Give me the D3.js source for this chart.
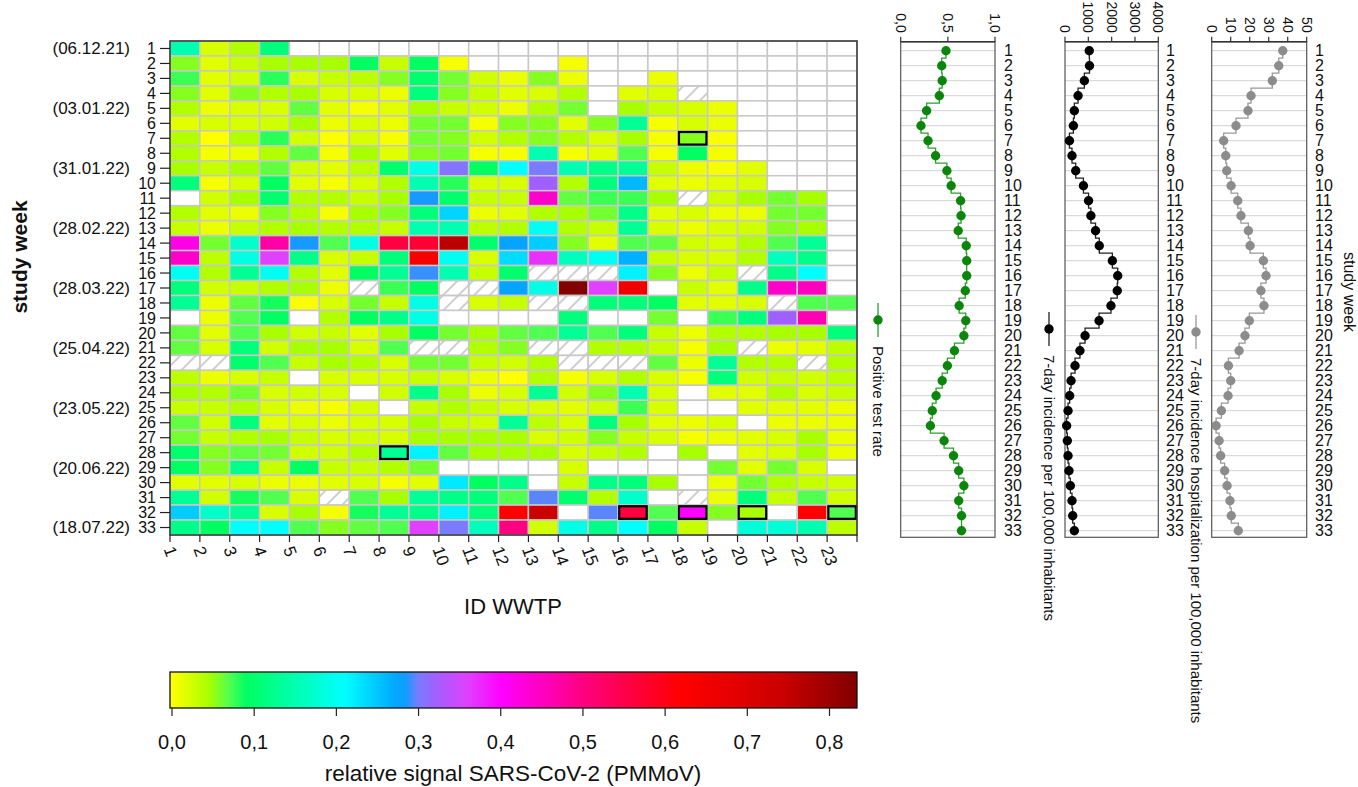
<!DOCTYPE html>
<html lang="en">
<head>
<meta charset="UTF-8">
<title>Relative SARS-CoV-2 signal per WWTP</title>
<script src="https://d3js.org/d3.v7.min.js"></script>
<style>
  body { margin: 0; background: #fff; font-family: "Liberation Sans", Arial, sans-serif; }
  svg text { fill: #111; }
</style>
</head>
<body>
<svg width="1358" height="787"></svg>
<script>
// ---- data ----
const weeks = d3.range(1, 34);
const wwtps = d3.range(1, 24);
const weekDates = { 1: "(06.12.21)", 5: "(03.01.22)", 9: "(31.01.22)", 13: "(28.02.22)", 17: "(28.03.22)",
                    21: "(25.04.22)", 25: "(23.05.22)", 29: "(20.06.22)", 33: "(18.07.22)" };
const n = null;
// relative signal SARS-CoV-2 / PMMoV, one row per study week, one column per WWTP
const signal = [
  [0.15,0.02,0.04,0.11,n,n,n,n,n,n,n,n,n,n,n,n,n,n,n,n,n,n,n],
  [0.055,0.015,0.03,0.045,0.045,0.045,0.09,0.03,0.09,0.005,n,n,n,0.005,n,n,n,n,n,n,n,n,n],
  [0.075,0.015,0.025,0.08,0.02,0.03,0.035,0.055,0.1,0.06,0.025,0.01,0.055,0.01,n,n,0.01,n,n,n,n,n,n],
  [0.055,0.015,0.055,0.04,0.045,0.02,0.02,0.01,0.11,0.055,0.03,0.015,0.02,0.04,n,0.015,0.02,n,n,n,n,n,n],
  [0.04,0.01,0.02,0.02,0.065,0.015,0.005,0.015,0.045,0.03,0.025,0.01,0.04,0.06,n,0.045,0.03,0.02,0.01,n,n,n,n],
  [0.015,0.02,0.02,0.025,0.045,0.01,0.02,0.01,0.06,0.06,0.005,0.055,0.055,0.015,0.055,0.13,0.005,0.02,0.01,n,n,n,n],
  [0.04,0.0,0.04,0.08,0.025,0.002,0.02,0.005,0.06,0.055,0.025,0.04,0.055,0.04,0.02,0.045,0.005,0.055,0.003,n,n,n,n],
  [0.04,0.005,0.01,0.04,0.065,0.005,0.045,0.015,0.055,0.06,0.005,0.005,0.15,0.005,0.015,0.07,0.005,0.09,0.005,n,n,n,n],
  [0.045,0.03,0.045,0.065,0.025,0.015,0.035,0.1,0.19,0.305,0.09,0.21,0.30,0.15,0.12,0.13,0.03,0.01,0.005,0.015,n,n,n],
  [0.11,0.005,0.02,0.09,0.015,0.005,0.02,0.04,0.15,0.08,0.02,0.02,0.32,0.04,0.11,0.26,0.015,0.01,0.015,0.02,n,n,n],
  [n,0.025,0.045,0.1,0.04,0.04,0.03,0.045,0.285,0.1,0.03,0.03,0.44,0.065,0.075,0.075,0.045,n,0.025,0.045,0.06,0.045,n],
  [0.04,0.015,0.01,0.055,0.04,0.005,0.045,0.055,0.11,0.24,0.01,0.015,0.04,0.045,0.06,0.12,0.015,0.02,0.01,0.01,0.06,0.06,n],
  [0.03,0.01,0.03,0.04,0.045,0.04,0.04,0.03,0.15,0.15,0.035,0.04,0.2,0.04,0.03,0.13,0.02,0.01,0.02,0.025,0.055,0.045,n],
  [0.42,0.06,0.17,0.47,0.285,0.07,0.19,0.56,0.57,0.76,0.1,0.275,0.245,0.055,0.015,0.07,0.065,0.025,0.02,0.04,0.07,0.13,n],
  [0.44,0.035,0.19,0.36,0.12,0.02,0.03,0.11,0.64,0.2,0.02,0.235,0.37,0.16,0.2,0.265,0.03,0.02,0.02,0.04,0.16,0.12,n],
  [0.2,0.04,0.13,0.2,0.04,0.015,0.09,0.13,0.29,0.15,0.03,0.1,n,n,n,0.22,0.055,0.01,0.03,n,0.12,0.21,n],
  [0.11,0.025,0.03,0.04,0.045,0.01,n,0.075,0.09,n,n,0.275,0.19,0.83,0.36,0.65,n,0.03,0.015,0.12,0.44,0.45,n],
  [0.13,0.01,0.065,0.085,0.003,0.02,0.06,0.03,0.19,n,0.02,0.03,n,n,0.11,0.11,0.09,0.015,0.015,0.02,n,0.07,0.07],
  [n,0.01,0.07,0.09,n,0.04,0.09,0.12,0.19,n,n,n,n,0.11,n,n,0.06,n,0.075,0.11,0.32,0.46,n],
  [0.065,0.015,0.07,0.045,0.025,0.03,0.015,0.045,0.09,0.06,0.045,0.065,0.07,0.13,0.07,0.11,0.03,0.01,0.04,0.04,0.045,0.045,0.11],
  [0.065,0.02,0.11,0.025,0.045,0.045,0.02,0.07,n,n,0.04,0.055,n,n,0.04,0.04,0.03,0.005,0.045,n,0.01,0.015,0.035],
  [n,n,0.1,0.07,0.03,0.045,0.04,0.02,0.06,0.06,0.03,0.025,0.04,n,n,n,0.065,0.01,0.13,0.04,0.04,n,0.04],
  [0.035,0.01,0.02,0.03,n,0.02,0.02,0.02,0.03,0.02,0.01,0.0,0.04,0.005,0.02,0.04,0.02,0.005,0.11,0.025,0.03,0.025,0.035],
  [0.045,0.04,0.06,0.02,0.025,0.02,n,0.025,0.12,0.045,0.01,0.02,0.13,0.025,0.055,0.15,0.02,n,0.015,0.015,0.04,0.02,0.03],
  [0.03,0.03,0.04,0.02,0.01,0.005,0.02,n,0.03,0.04,0.03,0.02,0.02,0.015,0.025,0.075,0.02,n,n,0.015,0.015,0.015,0.01],
  [0.065,0.025,0.11,0.015,0.02,0.01,0.02,0.02,0.045,0.03,0.025,0.13,0.035,0.02,0.11,0.045,0.015,0.01,0.02,n,0.01,0.01,0.01],
  [0.06,0.03,0.04,0.045,0.03,0.02,0.025,0.02,0.045,0.045,0.045,0.045,0.02,0.025,0.055,0.03,0.02,0.005,0.01,0.015,0.02,0.045,0.01],
  [0.1,0.055,0.065,0.06,0.025,0.025,0.04,0.13,0.22,0.065,0.045,0.045,0.045,0.02,0.03,0.04,n,0.045,n,0.015,0.02,0.045,0.01],
  [0.09,0.055,0.12,0.03,0.09,0.03,0.03,0.04,0.06,n,n,n,n,0.02,n,n,n,n,0.06,0.015,0.06,0.02,n],
  [0.015,0.015,0.02,0.01,0.01,0.015,0.02,0.005,0.015,0.225,0.09,0.12,n,0.03,0.12,0.11,0.045,n,0.01,0.06,0.04,0.03,0.025],
  [0.13,0.025,0.085,0.07,0.02,n,0.07,0.045,0.13,0.12,0.11,0.07,0.295,0.1,0.04,0.17,n,n,0.01,0.11,0.03,0.07,0.025],
  [0.245,0.17,0.13,0.02,0.045,0.005,0.085,0.13,0.12,0.22,0.11,0.62,0.74,n,0.295,0.56,0.07,0.40,0.055,0.045,n,0.62,0.07],
  [0.12,0.09,0.21,0.21,0.07,0.055,0.065,0.07,0.36,0.30,0.16,0.50,0.025,0.19,0.12,0.21,0.09,0.03,n,0.18,0.18,0.15,0.035]
];
// [week, wwtp]
const hatchedCells = [[4,18],[11,18],[16,13],[16,14],[16,15],[16,20],[17,7],[17,10],[17,11],[18,10],[18,13],[18,14],
  [18,21],[21,9],[21,10],[21,13],[21,14],[21,20],[22,1],[22,2],[22,14],[22,15],[22,16],[22,22],[31,6],[31,18]];
const framedCells = [[7,18],[28,8],[32,16],[32,18],[32,20],[32,23]];

const positiveRate = [0.48,0.435,0.44,0.41,0.275,0.215,0.29,0.37,0.49,0.535,0.635,0.64,0.61,0.695,0.70,0.70,0.685,
  0.62,0.69,0.67,0.57,0.495,0.44,0.375,0.335,0.315,0.46,0.56,0.615,0.67,0.615,0.645,0.645];
const incidence = [1040,1050,830,560,400,360,190,300,460,790,1010,1110,1310,1470,2030,2260,2240,
  1970,1460,860,640,430,260,200,130,70,100,130,170,230,300,330,400];
const hospitalization = [37.4,35.3,31.9,20.7,19.1,12.8,6.3,7.4,7.9,10.2,13.7,15.4,19.3,20.2,27.2,28.6,25.9,
  27.5,19.8,17.5,14.4,8.8,10.0,8.6,5.1,2.3,3.9,4.7,6.8,8.1,9.6,10.3,14.0];

const colorValues = [0, 0.045, 0.07, 0.09, 0.15, 0.21, 0.27, 0.284, 0.30, 0.32, 0.36, 0.40, 0.50, 0.62, 0.74, 0.835];
const colorStops = ["#ffff00","#a8ff00","#50ff50","#00ff60","#00ffb0","#00ffff","#00aaff","#0f9cff",
  "#7b7bff","#a060ff","#e040ff","#ff00ff","#ff0080","#ff0000","#cc0000","#800000"];
const colorTicks = [0, 0.1, 0.2, 0.3, 0.4, 0.5, 0.6, 0.7, 0.8];

// ---- drawing ----
const svg = d3.select("svg");
const color = d3.scaleLinear().domain(colorValues).range(colorStops).clamp(true);

const defs = svg.append("defs");
defs.append("pattern")
    .attr("id", "hatch")
    .attr("patternUnits", "userSpaceOnUse")
    .attr("width", 11).attr("height", 11)
    .attr("patternTransform", "rotate(45)")
  .append("line")
    .attr("x1", 5).attr("x2", 5).attr("y1", 0).attr("y2", 11)
    .attr("stroke", "#b4b4b4").attr("stroke-width", 1.3);

const x = d3.scaleLinear().domain([1, 24]).range([170, 857]);
const y = d3.scaleLinear().domain([1, 34]).range([41, 535]);

const key = (w, i) => w + "-" + i;
const hatchSet = new Set(hatchedCells.map(d => key(d[0], d[1])));

const cells = [];
weeks.forEach((w, r) => wwtps.forEach((id, c) => {
  cells.push({ week: w, id: id, value: signal[r][c], hatched: hatchSet.has(key(w, id)) });
}));

const heat = svg.append("g");
heat.selectAll("rect.cell")
  .data(cells)
  .join("rect")
    .attr("class", "cell")
    .attr("x", d => x(d.id))
    .attr("y", d => y(d.week))
    .attr("width", d => x(d.id + 1) - x(d.id))
    .attr("height", d => y(d.week + 1) - y(d.week))
    .attr("fill", d => d.hatched ? "url(#hatch)" : (d.value == null ? "#fff" : color(d.value)))
    .attr("stroke", "#c8c8c8")
    .attr("stroke-width", 1.5);

heat.selectAll("rect.frame")
  .data(framedCells)
  .join("rect")
    .attr("class", "frame")
    .attr("x", d => x(d[1]) + 1.2)
    .attr("y", d => y(d[0]) + 1.2)
    .attr("width", d => x(d[1] + 1) - x(d[1]) - 2.4)
    .attr("height", d => y(d[0] + 1) - y(d[0]) - 2.4)
    .attr("fill", "none")
    .attr("stroke", "#000")
    .attr("stroke-width", 2.2);

heat.append("rect")
    .attr("x", x(1)).attr("y", y(1))
    .attr("width", x(24) - x(1)).attr("height", y(34) - y(1))
    .attr("fill", "none").attr("stroke", "#333").attr("stroke-width", 1.5);

// left axis: study week
const yAxis = svg.append("g");
weeks.forEach(w => {
  const yy = y(w + 0.5);
  yAxis.append("line").attr("x1", 160).attr("x2", 170).attr("y1", yy).attr("y2", yy)
      .attr("stroke", "#222").attr("stroke-width", 1.2);
  yAxis.append("text").attr("x", 156).attr("y", yy).attr("dy", "0.35em")
      .attr("text-anchor", "end").attr("font-size", 16).text(w);
  if (weekDates[w]) {
    yAxis.append("text").attr("x", 130).attr("y", yy).attr("dy", "0.35em")
        .attr("text-anchor", "end").attr("font-size", 17).text(weekDates[w]);
  }
});
svg.append("text")
    .attr("transform", "translate(20,257) rotate(-90)")
    .attr("dy", "0.35em").attr("text-anchor", "middle")
    .attr("font-size", 21).attr("font-weight", "bold").text("study week");

// bottom axis: ID WWTP
const xAxis = svg.append("g");
d3.range(1, 25).forEach(i => {
  xAxis.append("line").attr("x1", x(i)).attr("x2", x(i)).attr("y1", 535).attr("y2", 542)
      .attr("stroke", "#222").attr("stroke-width", 1.2);
});
wwtps.forEach(i => {
  xAxis.append("text")
      .attr("transform", `translate(${x(i) - 1},547) rotate(70)`)
      .attr("dy", "0.35em").attr("text-anchor", "start")
      .attr("font-size", 17).text(i);
});
svg.append("text").attr("x", 513).attr("y", 606).attr("dy", "0.35em")
    .attr("text-anchor", "middle").attr("font-size", 22).text("ID WWTP");

// colour bar
const cb = d3.scaleLinear().domain([0, 0.8]).range([172, 829.5]);
const grad = defs.append("linearGradient").attr("id", "cbar")
    .attr("gradientUnits", "userSpaceOnUse").attr("x1", 170).attr("x2", 857).attr("y1", 0).attr("y2", 0);
d3.range(0, 1.0001, 0.005).forEach(t => {
  const px = 170 + t * (857 - 170);
  grad.append("stop").attr("offset", t).attr("stop-color", color(Math.max(0, cb.invert(px))));
});
svg.append("rect").attr("x", 170).attr("y", 672).attr("width", 687).attr("height", 36)
    .attr("fill", "url(#cbar)").attr("stroke", "#111").attr("stroke-width", 1.3);
colorTicks.forEach(t => {
  svg.append("line").attr("x1", cb(t)).attr("x2", cb(t)).attr("y1", 708).attr("y2", 716)
      .attr("stroke", "#222").attr("stroke-width", 1.2);
  svg.append("text").attr("x", cb(t)).attr("y", 742).attr("dy", "0.35em")
      .attr("text-anchor", "middle").attr("font-size", 20).text(d3.format(".1f")(t).replace(".", ","));
});
svg.append("text").attr("x", 513).attr("y", 773).attr("dy", "0.35em")
    .attr("text-anchor", "middle").attr("font-size", 22.5).text("relative signal SARS-CoV-2 (PMMoV)");

// side panels
const py = d3.scaleLinear().domain([1, 33]).range([50.7, 530.7]);
const boxTop = 41.7, boxBottom = 537.3;
const panels = [
  { values: positiveRate, domain: [0, 1], range: [900.7, 995], ticks: [0, 0.5, 1],
    fmt: t => d3.format(".1f")(t).replace(".", ","), line: "#2aa02a", dot: "#0c850c",
    legend: "Positive test rate", legendX: 878, legendY: 320, labelX: 1004 },
  { values: incidence, domain: [0, 4000], range: [1065, 1158.3], ticks: [0, 1000, 2000, 3000, 4000],
    fmt: t => String(t), line: "#222", dot: "#000",
    legend: "7-day incidence per 100,000 inhabitants", legendX: 1049, legendY: 329, labelX: 1166 },
  { values: hospitalization, domain: [0, 50], range: [1211.7, 1306.7], ticks: [0, 10, 20, 30, 40, 50],
    fmt: t => String(t), line: "#999", dot: "#8c8c8c",
    legend: "7-day incidence hospitalization per 100,000 inhabitants", legendX: 1196, legendY: 332, labelX: 1315 }
];

panels.forEach(p => {
  const sx = d3.scaleLinear().domain(p.domain).range(p.range);
  const g = svg.append("g");
  weeks.forEach(w => {
    g.append("line").attr("x1", p.range[0]).attr("x2", p.range[1]).attr("y1", py(w)).attr("y2", py(w))
        .attr("stroke", "#d2d2d2").attr("stroke-width", 1);
    g.append("text").attr("x", p.labelX).attr("y", py(w)).attr("dy", "0.35em")
        .attr("font-size", 16).text(w);
  });
  g.append("rect").attr("x", p.range[0]).attr("y", boxTop)
      .attr("width", p.range[1] - p.range[0]).attr("height", boxBottom - boxTop)
      .attr("fill", "none").attr("stroke", "#555").attr("stroke-width", 1.2);
  g.append("line").attr("x1", p.range[0]).attr("x2", p.range[1]).attr("y1", boxTop).attr("y2", boxTop)
      .attr("stroke", "#333").attr("stroke-width", 1.5);
  p.ticks.forEach(t => {
    g.append("line").attr("x1", sx(t)).attr("x2", sx(t)).attr("y1", boxTop - 5).attr("y2", boxTop)
        .attr("stroke", "#333").attr("stroke-width", 1.2);
    g.append("text").attr("transform", `translate(${sx(t)},${boxTop - 9}) rotate(90)`)
        .attr("dy", "0.35em").attr("text-anchor", "end").attr("font-size", 14).text(p.fmt(t));
  });

  // step line with the step half way between weeks
  const pts = [];
  p.values.forEach((v, i) => {
    const w = i + 1;
    if (i > 0) pts.push([sx(p.values[i - 1]), (py(w - 1) + py(w)) / 2], [sx(v), (py(w - 1) + py(w)) / 2]);
    pts.push([sx(v), py(w)]);
  });
  g.append("path").attr("d", d3.line()(pts))
      .attr("fill", "none").attr("stroke", p.line).attr("stroke-width", 1.3);
  g.selectAll("circle").data(p.values).join("circle")
      .attr("cx", d => sx(d)).attr("cy", (d, i) => py(i + 1)).attr("r", 4.7)
      .attr("fill", p.dot);

  // legend
  g.append("line").attr("x1", p.legendX).attr("x2", p.legendX)
      .attr("y1", p.legendY - 17).attr("y2", p.legendY + 17)
      .attr("stroke", p.line).attr("stroke-width", 1.3);
  g.append("circle").attr("cx", p.legendX).attr("cy", p.legendY).attr("r", 4.7).attr("fill", p.dot);
  g.append("text").attr("transform", `translate(${p.legendX},${p.legendY + 26}) rotate(90)`)
      .attr("dy", "0.35em").attr("font-size", 15).text(p.legend);
});

svg.append("text").attr("transform", "translate(1350,292) rotate(90)")
    .attr("dy", "0.35em").attr("text-anchor", "middle").attr("font-size", 16).text("study week");
</script>
</body>
</html>
